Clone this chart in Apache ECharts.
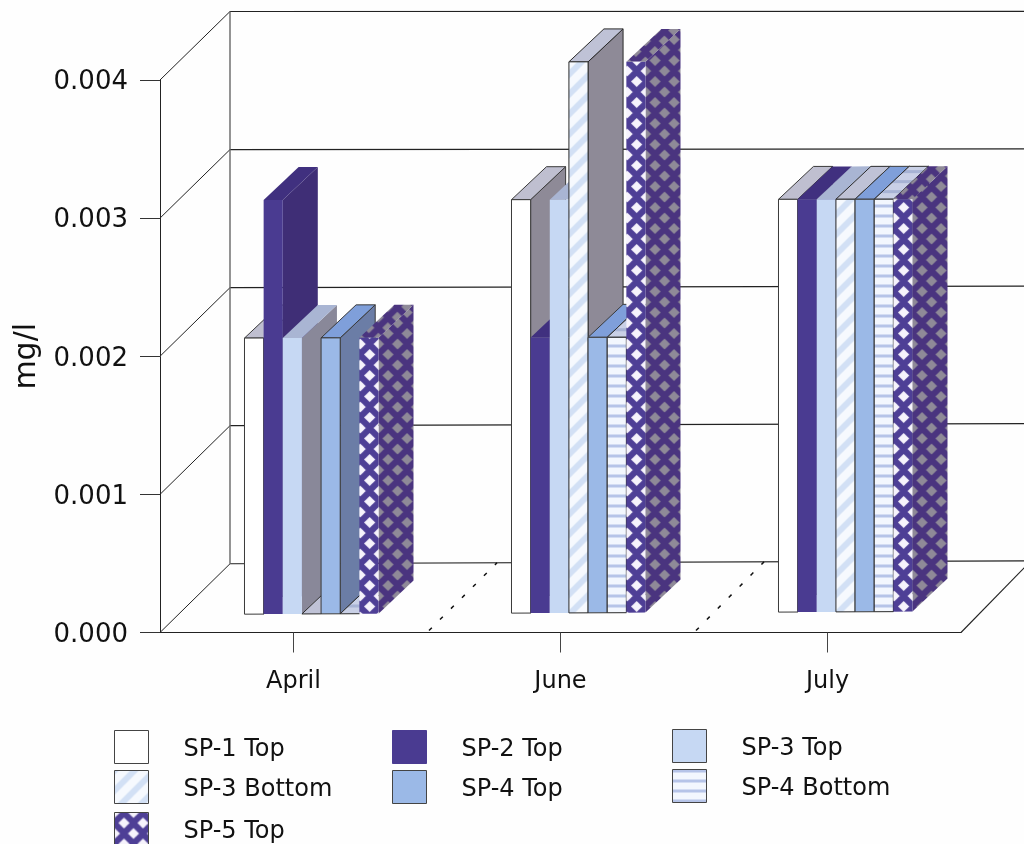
<!DOCTYPE html>
<html>
<head>
<meta charset="utf-8">
<style>html,body{margin:0;padding:0;background:#fefefe}#chart{width:1024px;height:844px}</style>
<script src="https://cdn.jsdelivr.net/npm/echarts@6/dist/echarts.min.js"></script>
</head>
<body>
<div id="chart"></div>
<script>
// Sampling months and concentrations in mg/l
const months = ['April', 'June', 'July'];
const yTicks = [0, 0.001, 0.002, 0.003, 0.004];
const sp1Top = [0.002, 0.003, 0.003];
const sp2Top = [0.003, 0.002, 0.003];
const sp3Top = [0.002, 0.003, 0.003];
const sp3Bottom = [0, 0.004, 0.003];
const sp4Top = [0.002, 0.002, 0.003];
const sp4Bottom = [0, 0.002, 0.003];
const sp5Top = [0.002, 0.004, 0.003];

// Pattern tiles
function tile(w, h, paint) {
  const c = document.createElement('canvas');
  c.width = w; c.height = h;
  paint(c.getContext('2d'), w, h);
  return c;
}
function diamonds(bg, fg, hw, hh) {
  return tile(19, 21, (g, w, h) => {
    g.fillStyle = bg; g.fillRect(0, 0, w, h);
    g.fillStyle = fg;
    [[w / 2, h / 2], [0, 0], [w, 0], [0, h], [w, h]].forEach(([x, y]) => {
      g.beginPath();
      g.moveTo(x - hw, y); g.lineTo(x, y - hh); g.lineTo(x + hw, y); g.lineTo(x, y + hh);
      g.closePath(); g.fill();
    });
  });
}
function hatch(bg, fg) {
  return tile(20, 20, (g, w, h) => {
    g.fillStyle = bg; g.fillRect(0, 0, w, h);
    g.strokeStyle = fg; g.lineWidth = 6;
    g.beginPath();
    g.moveTo(-2, h + 2); g.lineTo(w + 2, -2);
    g.moveTo(-4, 4); g.lineTo(4, -4);
    g.moveTo(w - 4, h + 4); g.lineTo(w + 4, h - 4);
    g.stroke();
  });
}
function stripes(bg, fg) {
  return tile(4, 10, (g, w, h) => {
    g.fillStyle = bg; g.fillRect(0, 0, w, h);
    g.fillStyle = fg; g.fillRect(0, 0, w, 3);
  });
}
const patternFront5 = diamonds('#4e3f96', '#f6f3fc', 5.6, 5.4);
const patternSide5 = diamonds('#4a347f', '#8f8a98', 5.6, 5.6);
const patternHatch = hatch('#f6f9fe', '#d2e0f5');
const patternStripes = stripes('#f3f7fe', '#b6c4e8');
const patternStripesTop = stripes('#c9d0e6', '#a7b3d4');

function pat(image, x, y) {
  return { type: 'pattern', image, repeat: 'repeat', x: x || 0, y: y || 0 };
}

const looks = [
  { name: 'SP-1 Top', values: sp1Top, front: '#ffffff', top: '#bfbfd0', side: '#8e8a97', edge: '#3a3a3a' },
  { name: 'SP-2 Top', values: sp2Top, front: '#4a3b91', top: '#40307f', side: '#3f2e76', edge: null },
  { name: 'SP-3 Top', values: sp3Top, front: '#c6d8f3', top: '#a9b5d3', side: '#898899', edge: null },
  { name: 'SP-3 Bottom', values: sp3Bottom, front: patternHatch, top: '#bfc2d6', side: '#8e8a97', edge: '#2a2a2a' },
  { name: 'SP-4 Top', values: sp4Top, front: '#9bb9e7', top: '#7f9fda', side: '#6b7da6', edge: '#3a3a3a' },
  { name: 'SP-4 Bottom', values: sp4Bottom, front: patternStripes, top: patternStripesTop, side: '#8e8a97', edge: '#2a2a2a' },
  { name: 'SP-5 Top', values: sp5Top, front: patternFront5, top: patternSide5, side: patternSide5, edge: null, anchored: true }
];

// The page is very slightly tilted, more strongly towards the floor.
function warp(p) {
  return [p[0], p[1] - (p[0] - 160) * 0.004 * (p[1] / 633)];
}
const WALL_DX = 70;
const WALL_DY = 68.5;
const BAR_SHIFT = 18;
const BAR_DX = 35;
const BAR_DY = 33;
const BAR_RATIO = 0.0717;

function renderBar(idx, params, api) {
  const cat = api.value(0);
  const top = api.coord([cat, api.value(1)]);
  const base = api.coord([cat, 0]);
  const w = api.size([1, 0])[0] * BAR_RATIO;
  const look = looks[idx];
  const l = top[0] - 3.5 * w + idx * w + BAR_SHIFT;
  const r = l + w;
  const yt = top[1] - BAR_SHIFT;
  const yb = base[1] - BAR_SHIFT;
  const fill = (f, ax, ay) => (f && f.nodeName === 'CANVAS' ? pat(f, ax, ay) : f);
  const stroke = look.edge || 'none';
  const poly = (pts, f) => ({
    type: 'polygon',
    shape: { points: pts.map(warp) },
    style: { fill: f, stroke, lineWidth: look.edge ? 1 : 0 }
  });
  const ax = look.anchored ? l + 0.8 : l;
  const ay = look.anchored ? yb - 8 - 10.5 : yb;
  const children = [];
  if (yb - yt > 0.5) {
    children.push(poly([[r, yt], [r + BAR_DX, yt - BAR_DY], [r + BAR_DX, yb - BAR_DY], [r, yb]], fill(look.side, r, ay)));
  }
  children.push(poly([[l, yt], [l + BAR_DX, yt - BAR_DY], [r + BAR_DX, yt - BAR_DY], [r, yt]], fill(look.top, l, yt)));
  if (yb - yt > 0.5) {
    children.push(poly([[l, yt], [r, yt], [r, yb], [l, yb]], fill(look.front, ax, ay)));
  }
  return { type: 'group', children };
}

function line(pts, color, width, dash) {
  return {
    type: 'polyline',
    shape: { points: pts },
    style: { fill: 'none', stroke: color, lineWidth: width, lineDash: dash || null }
  };
}

// Back wall and side wall rules, one per tick value
function renderWall(params, api) {
  const p = api.coord([0, api.value(0)]);
  const x0 = params.coordSys.x;
  const y = p[1];
  const end = params.coordSys.x + 900;
  return {
    type: 'group',
    children: [
      line([[x0, y], warp([x0 + WALL_DX, y - WALL_DY])], '#222', 1),
      line([warp([x0 + WALL_DX, y - WALL_DY]), warp([end, y - WALL_DY])], '#222', 1.2)
    ]
  };
}

// Back wall upright
function renderUpright(params, api) {
  const x0 = params.coordSys.x;
  const top = api.coord([0, yTicks[yTicks.length - 1]]);
  const bottom = api.coord([0, yTicks[0]]);
  return line([warp([x0 + WALL_DX, top[1] - WALL_DY]), warp([x0 + WALL_DX, bottom[1] - WALL_DY])], '#666', 1.4);
}

// Floor dividers between months, and the floor's right edge
function renderFloor(params, api) {
  const cat = api.value(0);
  const c = api.coord([cat, 0]);
  const band = api.size([1, 0])[0];
  const x = c[0] + band / 2;
  const y = c[1];
  const far = warp([x + WALL_DX, y - WALL_DY]);
  if (cat === months.length - 1) return line([[x, y], far], '#222', 1.1);
  return line([[x + 2, y - 2], far], '#111', 1.5, [4, 11.5]);
}

const FONT = '"DejaVu Sans"';
const series = [
  { type: 'custom', name: 'wall', data: yTicks.map(v => [v]), encode: { y: 0 }, renderItem: renderWall, silent: true },
  { type: 'custom', name: 'upright', data: [[0]], encode: { y: 0 }, renderItem: renderUpright, silent: true },
  { type: 'custom', name: 'floor', data: months.map((m, i) => [i]), encode: { x: 0 }, renderItem: renderFloor, silent: true }
];
looks.forEach((look, idx) => {
  series.push({
    type: 'custom',
    name: look.name,
    data: look.values.map((v, i) => [i, v]),
    encode: { x: 0, y: 1 },
    renderItem: (params, api) => renderBar(idx, params, api),
    silent: true
  });
});

function legendItem(name) {
  const look = looks.find(s => s.name === name);
  const color = look.front.nodeName === 'CANVAS' ? pat(look.front) : look.front;
  return {
    name,
    icon: 'rect',
    itemStyle: { color, borderColor: look.name === 'SP-2 Top' ? '#4a3b91' : '#444', borderWidth: 1 }
  };
}
function legendColumn(left, top, names, swatchH) {
  return {
    left, top, orient: 'vertical', padding: 0,
    itemWidth: 34, itemHeight: swatchH, itemGap: 6,
    selectedMode: false,
    data: names.map(legendItem),
    formatter: name => '{n|' + name + '}',
    textStyle: {
      rich: { n: { fontFamily: FONT, fontSize: 24, color: '#111', padding: [6, 0, 0, 30] } }
    }
  };
}

const chart = echarts.init(document.getElementById('chart'), null, { renderer: 'canvas' });
chart.setOption({
  animation: false,
  backgroundColor: '#fefefe',
  grid: { left: 160, top: 80, width: 801, height: 552.5, containLabel: false },
  legend: [
    legendColumn(114, 730, ['SP-1 Top', 'SP-3 Bottom'], 33),
    legendColumn(114, 812, ['SP-5 Top'], 32),
    legendColumn(392, 730, ['SP-2 Top', 'SP-4 Top'], 33),
    legendColumn(672, 729, ['SP-3 Top', 'SP-4 Bottom'], 33)
  ],
  xAxis: {
    type: 'category',
    data: months,
    axisLine: { lineStyle: { color: '#222', width: 1.2 } },
    axisTick: { show: true, alignWithLabel: true, length: 20, lineStyle: { color: '#444', width: 1 } },
    axisLabel: { margin: 37, fontFamily: FONT, fontSize: 24, color: '#111' },
    splitLine: { show: false }
  },
  yAxis: {
    type: 'value',
    min: 0,
    max: 0.004,
    interval: 0.001,
    name: 'mg/l',
    nameLocation: 'middle',
    nameRotate: 90,
    nameGap: 105,
    nameTextStyle: { fontFamily: FONT, fontSize: 30, color: '#111' },
    axisLine: { show: true, lineStyle: { color: '#222', width: 1 } },
    axisTick: { show: true, length: 20, lineStyle: { color: '#333', width: 1 } },
    axisLabel: {
      margin: 32,
      formatter: v => '{n|' + v.toFixed(3) + '}',
      rich: { n: { fontFamily: FONT, fontSize: 26, color: '#111', padding: [5, 0, 0, 0] } }
    },
    splitLine: { show: false }
  },
  series
});
</script>
</body>
</html>
